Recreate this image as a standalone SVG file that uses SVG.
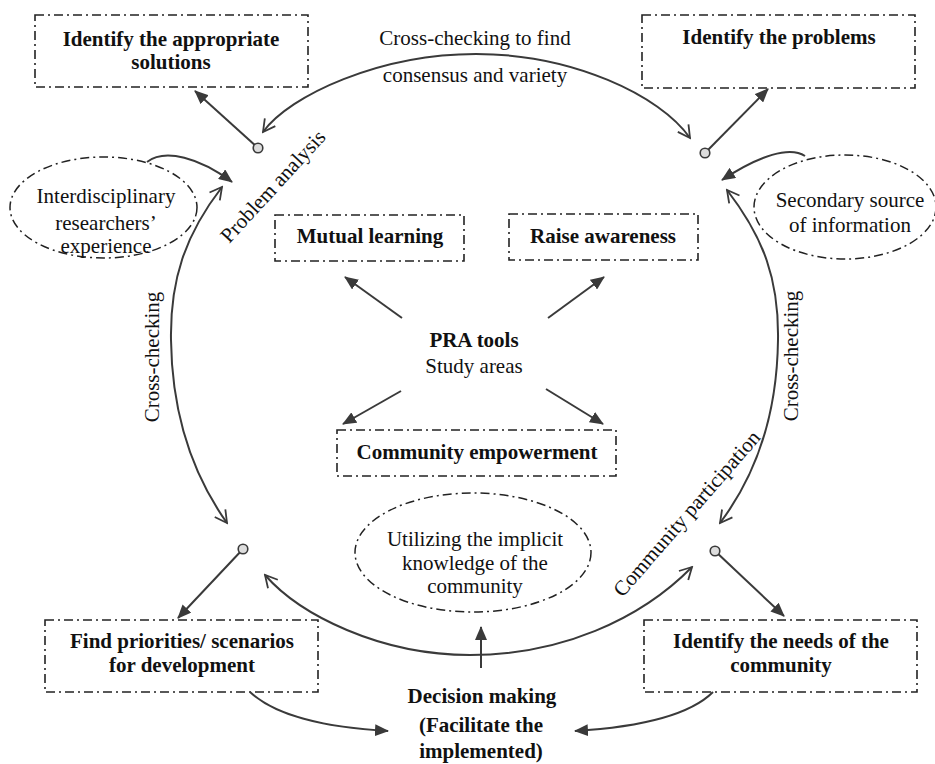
<svg xmlns="http://www.w3.org/2000/svg" width="935" height="764" viewBox="0 0 935 764">
<style>
.box{fill:none;stroke:#222;stroke-width:1.6;stroke-dasharray:9 4 2 4}
.ell{fill:none;stroke:#222;stroke-width:1.5;stroke-dasharray:9 4 2 4}
.t{font-family:"Liberation Serif",serif;font-size:21px;fill:#111;text-anchor:middle}
.b{font-weight:bold}
.ln{fill:none;stroke:#3a3a3a;stroke-width:2}
.dot{fill:#ddd;stroke:#3a3a3a;stroke-width:1.6}
</style>
<defs>
<marker id="fa" viewBox="0 0 14 12" refX="13" refY="6" markerWidth="14" markerHeight="12" markerUnits="userSpaceOnUse" orient="auto"><path d="M0,0 L14,6 L0,12 z" fill="#3a3a3a"/></marker>
<marker id="oa" viewBox="0 0 16 16" refX="14" refY="8" markerWidth="16" markerHeight="16" markerUnits="userSpaceOnUse" orient="auto-start-reverse"><path d="M2,1.5 L14,8 L2,14.5" fill="none" stroke="#3a3a3a" stroke-width="1.8"/></marker>
</defs>
<rect width="935" height="764" fill="#fff"/>

<g id="n-solutions"><rect class="box" x="35" y="15" width="273" height="72"/><text class="t b" x="171" y="46">Identify the appropriate</text><text class="t b" x="171" y="69">solutions</text></g>
<g id="n-problems"><rect class="box" x="642" y="15" width="273" height="73"/><text class="t b" x="779" y="44">Identify the problems</text></g>
<g id="n-mutual"><rect class="box" x="275" y="215" width="189" height="46"/><text class="t b" x="370" y="243">Mutual learning</text></g>
<g id="n-raise"><rect class="box" x="509" y="214" width="189" height="46"/><text class="t b" x="603" y="243">Raise awareness</text></g>
<g id="n-empower"><rect class="box" x="337" y="430" width="279" height="46"/><text class="t b" x="477" y="459">Community empowerment</text></g>
<g id="n-priorities"><rect class="box" x="45" y="620" width="273" height="72"/><text class="t b" x="182" y="648">Find priorities/ scenarios</text><text class="t b" x="182" y="672">for development</text></g>
<g id="n-needs"><rect class="box" x="644" y="620" width="273" height="72"/><text class="t b" x="781" y="648">Identify the needs of the</text><text class="t b" x="781" y="672">community</text></g>
<g id="n-interdisc"><ellipse class="ell" cx="103.5" cy="207.5" rx="93.5" ry="50.5"/><text class="t" x="106" y="203">Interdisciplinary</text><text class="t" x="106" y="230">researchers’</text><text class="t" x="106" y="253">experience</text></g>
<g id="n-secondary"><ellipse class="ell" cx="845" cy="207" rx="91" ry="52"/><text class="t" x="850" y="207">Secondary source</text><text class="t" x="850" y="232">of information</text></g>
<g id="n-implicit"><ellipse class="ell" cx="473" cy="552.5" rx="118" ry="59.5"/><text class="t" x="475" y="546">Utilizing the implicit</text><text class="t" x="475" y="570">knowledge of the</text><text class="t" x="475" y="593">community</text></g>
<g id="n-pra"><text class="t b" x="474" y="347">PRA tools</text><text class="t" x="474" y="373">Study areas</text></g>
<g id="n-decision"><text class="t b" x="482" y="703">Decision making</text><text class="t b" x="481" y="732">(Facilitate the</text><text class="t b" x="481" y="758">implemented)</text></g>

<g id="connectors">
<path class="ln" d="M263,132 C290,95 380,54 476,54 C572,54 660,95 690,138" marker-start="url(#oa)" marker-end="url(#oa)"/>
<path class="ln" d="M222,187 C185,235 170,280 171,340 C172,420 195,478 227,523" marker-start="url(#oa)" marker-end="url(#oa)"/>
<path class="ln" d="M727,190 C764,238 779,280 778,340 C777,420 754,478 720,523" marker-start="url(#oa)" marker-end="url(#oa)"/>
<path class="ln" d="M265,575 C300,615 380,655 470,655 C560,655 640,620 692,567" marker-start="url(#oa)" marker-end="url(#oa)"/>

<line class="ln" x1="258" y1="148" x2="195" y2="91" marker-end="url(#fa)"/>
<line class="ln" x1="705" y1="153" x2="768" y2="89" marker-end="url(#fa)"/>
<line class="ln" x1="243" y1="549" x2="178" y2="618" marker-end="url(#fa)"/>
<line class="ln" x1="715" y1="551" x2="784" y2="616" marker-end="url(#fa)"/>

<path class="ln" d="M147,162 C165,148 200,158 232,182" marker-end="url(#fa)"/>
<path class="ln" d="M805,156 C790,146 760,155 722,180" marker-end="url(#fa)"/>

<line class="ln" x1="402" y1="318" x2="345" y2="277" marker-end="url(#fa)"/>
<line class="ln" x1="548" y1="318" x2="604" y2="277" marker-end="url(#fa)"/>
<line class="ln" x1="401" y1="391" x2="343" y2="424" marker-end="url(#fa)"/>
<line class="ln" x1="546" y1="389" x2="603" y2="424" marker-end="url(#fa)"/>

<line class="ln" x1="481" y1="668" x2="481" y2="627" marker-end="url(#fa)"/>
<path class="ln" d="M250,692 C275,715 320,727 388,731" marker-end="url(#fa)"/>
<path class="ln" d="M713,692 C690,715 640,727 575,731" marker-end="url(#fa)"/>

<circle class="dot" cx="258" cy="148" r="4.8"/>
<circle class="dot" cx="705" cy="153" r="4.8"/>
<circle class="dot" cx="243" cy="549" r="4.8"/>
<circle class="dot" cx="715" cy="551" r="4.8"/>

<text class="t" x="475" y="45">Cross-checking to find</text>
<text class="t" x="475" y="82">consensus and variety</text>
<text class="t" transform="translate(278,191) rotate(-47.5)">Problem analysis</text>
<text class="t" transform="translate(692,518) rotate(-49)">Community participation</text>
<text class="t" transform="translate(159,357) rotate(-90)">Cross-checking</text>
<text class="t" transform="translate(798,356) rotate(-90)">Cross-checking</text>
</g>
</svg>
